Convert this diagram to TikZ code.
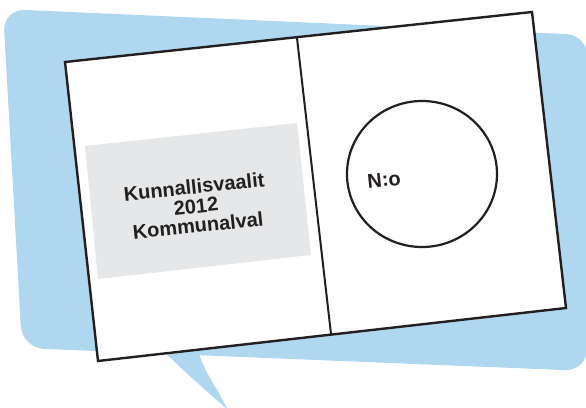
\documentclass[tikz,border=0pt]{standalone}
\usepackage{fontspec}
\setmainfont{Liberation Sans}
\usepackage{xcolor}
\definecolor{bubbleblue}{RGB}{176,215,240}
\definecolor{labelgray}{RGB}{230,231,232}
\definecolor{inkblack}{RGB}{35,31,32}

\begin{document}
\begin{tikzpicture}[x=1pt, y=-1pt,
    bubble/.style={fill=bubbleblue},
    card/.style={draw=inkblack, fill=white, line width=2.4pt, line join=miter},
    fold/.style={draw=inkblack, line width=2pt},
    ring/.style={draw=inkblack, line width=2.2pt},
    label/.style={fill=labelgray},
    ballot/.style={text=inkblack, font=\bfseries\fontsize{20}{19.5}\selectfont, align=center, rotate=6, inner sep=0pt}
  ]
  \useasboundingbox (0,0) rectangle (586,407);

  % speech bubble behind the ballot
  \fill[bubble, rounded corners=22pt] (3,9) -- (588,35) -- (587,371) -- (22,348) -- cycle;
  \fill[bubble] (156,344) .. controls (185,372) .. (228,410) -- (220,395) .. controls (205,370) .. (196,346) -- cycle;

  \coordinate (TL) at (65,62);    % corners of the ballot
  \coordinate (TR) at (532,12);
  \coordinate (BR) at (566,308);
  \coordinate (BL) at (98,361);
  \coordinate (F1) at (297,38);   % fold line, top
  \coordinate (F2) at (331,334);  % fold line, bottom

  \draw[card] (TL) -- (TR) -- (BR) -- (BL) -- cycle;
  \fill[label] (85,146) -- (297,123) -- (311,255) -- (98,279) -- cycle;
  \draw[fold] (F1) -- (F2);

  \coordinate (C) at (422,174);   % centre of number ring
  \draw[ring] (C) ellipse[x radius=75, y radius=73];

  \node[ballot] (title) at (196,206) {Kunnallisvaalit\\2012\\Kommunalval};
  \node[ballot] (number) at (384,180) {N:o};
\end{tikzpicture}
\end{document}
